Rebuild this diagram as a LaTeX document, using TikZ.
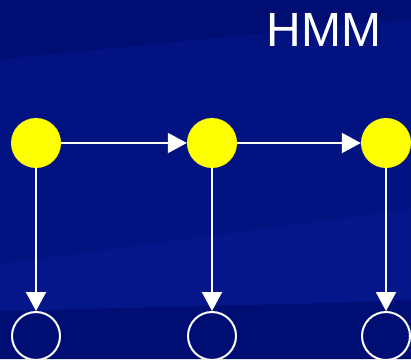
\documentclass[tikz,border=0pt]{standalone}
\usepackage{fontspec}
\setmainfont{Liberation Sans}
\usetikzlibrary{arrows.meta}

\definecolor{slideblue}{RGB}{2,18,128}
\definecolor{slidelight}{RGB}{6,26,145}
\definecolor{slidedark}{RGB}{0,14,116}
\definecolor{hidyellow}{RGB}{255,255,0}

\begin{document}
\begin{tikzpicture}[
  x=1pt, y=1pt,
  >={Triangle[length=19pt, width=20pt]},
  hid/.style={circle, fill=hidyellow, minimum size=50pt, inner sep=0pt},
  obs/.style={circle, draw=white, line width=2pt, minimum size=48pt, inner sep=0pt},
  arr/.style={->, white, line width=2pt},
]

%% ---------- background ----------
\useasboundingbox (0,0) rectangle (411,359);
\fill[slideblue] (0,0) rectangle (411,359);
\fill[slidedark] (0,300) -- (411,340) -- (411,359) -- (0,359) -- cycle;
\fill[slidelight, opacity=0.6] (0,95) -- (411,150) -- (411,60) -- (0,40) -- cycle;
\fill[slidedark] (0,0) -- (0,48) -- (411,58) -- (411,0) -- cycle;

%% ---------- title ----------
\node[text=white, font=\fontsize{48}{48}\selectfont, anchor=base, inner sep=0pt]
  (title) at (324,312) {HMM};

%% ---------- hidden states ----------
\node[hid] (h1) at (36,216) {};
\node[hid] (h2) at (212,216) {};
\node[hid] (h3) at (386,216) {};

%% ---------- observations ----------
\node[obs] (o1) at (36,23) {};
\node[obs] (o2) at (212,23) {};
\node[obs] (o3) at (386,23) {};

\draw[arr] (h1) -- (h2);
\draw[arr] (h2) -- (h3);
\foreach \i in {1,2,3}
  \draw[arr] (h\i) -- (o\i);

\end{tikzpicture}
\end{document}
